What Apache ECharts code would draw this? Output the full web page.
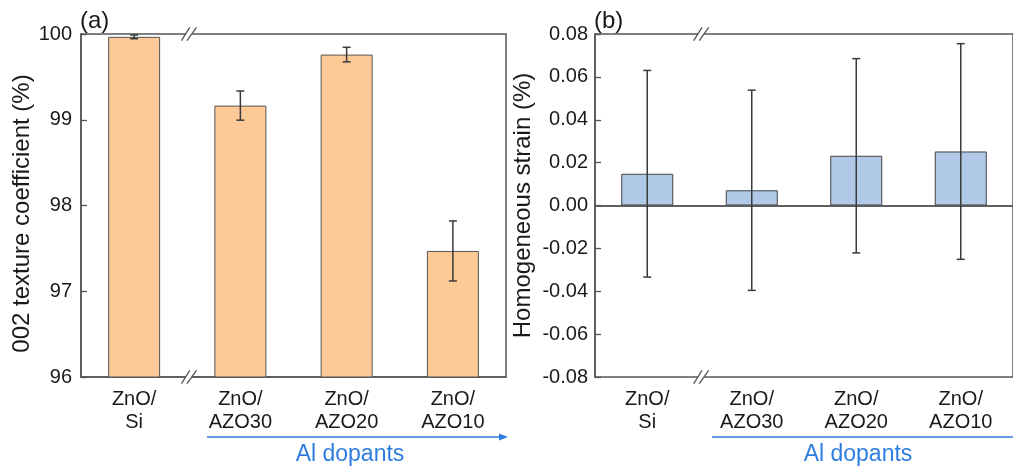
<!DOCTYPE html>
<html><head><meta charset="utf-8">
<script src="https://cdn.jsdelivr.net/npm/echarts@6/dist/echarts.min.js"></script>
<style>html,body{margin:0;padding:0;background:#fff}#c{width:1013px;height:470px}</style>
</head><body><div id="c"></div>
<script>
const categories = ['ZnO/\nSi', 'ZnO/\nAZO30', 'ZnO/\nAZO20', 'ZnO/\nAZO10'];
const texture = [99.967, 99.165, 99.76, 97.47];
const textureErr = [0.022, 0.17, 0.085, 0.35];
const strain = [0.0148, 0.0071, 0.0232, 0.0252];
const strainErr = [0.0482, 0.0467, 0.0453, 0.0503];
const textureTicks = {min: 96, max: 100, interval: 1};
const strainTicks = {min: -0.08, max: 0.08, interval: 0.02};

const FONT = 'Liberation Sans';
const AX = '#555';
const TXT = '#1a1a1a';
const BLUE = '#2f7de1';

const chart = echarts.init(document.getElementById('c'), null, {renderer: 'canvas'});

function errSeries(idx, vals, errs) {
  return {
    type: 'custom', xAxisIndex: idx, yAxisIndex: idx, z: 6, clip: false,
    data: vals.map((v, i) => [i, v - errs[i], v + errs[i]]),
    encode: {x: 0, y: [1, 2]},
    renderItem(params, api) {
      const lo = api.coord([api.value(0), api.value(1)]);
      const hi = api.coord([api.value(0), api.value(2)]);
      const x = lo[0], w = 4;
      const st = {stroke: '#3a3a3a', lineWidth: 1.5};
      return {type: 'group', children: [
        {type: 'line', shape: {x1: x, y1: lo[1], x2: x, y2: hi[1]}, style: st},
        {type: 'line', shape: {x1: x - w, y1: lo[1], x2: x + w, y2: lo[1]}, style: st},
        {type: 'line', shape: {x1: x - w, y1: hi[1], x2: x + w, y2: hi[1]}, style: st}
      ]};
    }
  };
}

function breakSeries(idx, refY) {
  return {
    type: 'custom', xAxisIndex: idx, yAxisIndex: idx, z: 10, clip: false, silent: true,
    data: [[0, refY]],
    renderItem(params, api) {
      const cs = params.coordSys;
      const a = api.coord([0, api.value(1)])[0];
      const b = api.coord([1, api.value(1)])[0];
      const xm = (a + b) / 2 + 1.5;
      const kids = [];
      [cs.y, cs.y + cs.height].forEach(y => {
        kids.push({type: 'rect', shape: {x: xm - 3.2, y: y - 2.5, width: 6.4, height: 5}, style: {fill: '#fff'}});
        kids.push({type: 'line', shape: {x1: xm - 7.3, y1: y + 6.7, x2: xm + 1, y2: y - 6.7}, style: {stroke: AX, lineWidth: 1.3}});
        kids.push({type: 'line', shape: {x1: xm - 1.7, y1: y + 6.7, x2: xm + 7.7, y2: y - 6.7}, style: {stroke: AX, lineWidth: 1.3}});
      });
      return {type: 'group', children: kids};
    }
  };
}

function xAxisCfg(idx) {
  return {
    type: 'category', gridIndex: idx, data: categories, boundaryGap: true,
    axisLine: {show: true, lineStyle: {color: AX, width: 1.5}},
    axisTick: {show: true, inside: true, alignWithLabel: true, length: 6, lineStyle: {color: AX, width: 1.3}},
    axisLabel: {fontFamily: FONT, fontSize: 20, color: TXT, lineHeight: 23, margin: 11},
    splitLine: {show: false}
  };
}

function yAxisCfg(idx, ticks, name, gap, fmt, pad, margin) {
  return {
    type: 'value', gridIndex: idx, min: ticks.min, max: ticks.max, interval: ticks.interval,
    name: name, nameLocation: 'middle', nameGap: gap,
    nameTextStyle: {fontFamily: FONT, fontSize: 24, color: TXT, padding: pad},
    axisLine: {show: true, lineStyle: {color: AX, width: 1.5}},
    axisTick: {show: true, inside: true, length: 6, lineStyle: {color: AX, width: 1.3}},
    axisLabel: {fontFamily: FONT, fontSize: 20, color: TXT, margin: margin, formatter: fmt},
    splitLine: {show: false}
  };
}

function arrow(x1, x2, y, tx) {
  return [
    {type: 'line', shape: {x1: x1, y1: y, x2: x2 - 6, y2: y}, style: {stroke: BLUE, lineWidth: 1.6}},
    {type: 'polygon', shape: {points: [[x2, y], [x2 - 9, y - 3.5], [x2 - 9, y + 3.5]]}, style: {fill: BLUE}},
    {type: 'text', x: tx, y: 455, style: {text: 'Al dopants', fontFamily: FONT, fontSize: 23, fill: BLUE, align: 'center', verticalAlign: 'middle'}}
  ];
}

chart.setOption({
  animation: false,
  backgroundColor: '#fff',
  title: [
    {text: '(a)', left: 75, top: 4, textStyle: {fontFamily: FONT, fontSize: 24, fontWeight: 'normal', color: TXT}},
    {text: '(b)', left: 589, top: 4, textStyle: {fontFamily: FONT, fontSize: 24, fontWeight: 'normal', color: TXT}}
  ],
  grid: [
    {left: 81, top: 34, width: 425, height: 343, show: true, borderColor: AX, borderWidth: 1.5, backgroundColor: 'transparent'},
    {left: 595, top: 34, width: 425, height: 343, show: true, borderColor: AX, borderWidth: 1.5, backgroundColor: 'transparent'}
  ],
  xAxis: [xAxisCfg(0), xAxisCfg(1)],
  yAxis: [
    yAxisCfg(0, textureTicks, '002 texture coefficient (%)', 46, v => String(v), [0, 16, 0, 0], 9),
    yAxisCfg(1, strainTicks, 'Homogeneous strain (%)', 60, v => v.toFixed(2), [0, 0, 0, 0], 7)
  ],
  series: [
    {type: 'bar', xAxisIndex: 0, yAxisIndex: 0, data: texture, barWidth: 52,
     itemStyle: {color: '#fcc997', borderColor: '#555', borderWidth: 1}},
    errSeries(0, texture, textureErr),
    breakSeries(0, 98),
    {type: 'bar', xAxisIndex: 1, yAxisIndex: 1, data: strain, barWidth: 52,
     itemStyle: {color: '#afc9e6', borderColor: '#444', borderWidth: 1},
     markLine: {silent: true, symbol: 'none', label: {show: false},
       lineStyle: {color: AX, width: 1.5, type: 'solid'}, data: [{yAxis: 0}]}},
    errSeries(1, strain, strainErr),
    breakSeries(1, 0)
  ],
  graphic: [].concat(arrow(207, 508, 437, 350), arrow(712, 1024, 437, 858))
});
</script></body></html>
